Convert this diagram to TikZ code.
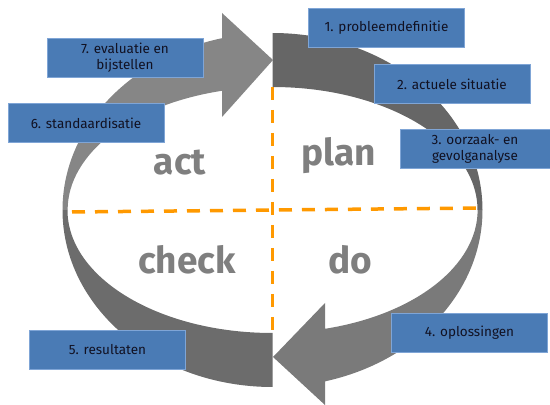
\documentclass[tikz,border=0pt]{standalone}
\usepackage{fontspec}
\setmainfont{Fira Sans}
\definecolor{actgray}{HTML}{868686}
\definecolor{plangray}{HTML}{666666}
\definecolor{checkgray}{HTML}{6C6C6C}
\definecolor{dogray}{HTML}{7A7A7A}
\definecolor{dashorange}{HTML}{FF9900}
\definecolor{boxblue}{HTML}{4A7BB5}
\definecolor{boxline}{HTML}{7FA5D6}
\definecolor{boxtext}{HTML}{111122}
\definecolor{labelgray}{HTML}{7F7F7F}
\begin{document}
\begin{tikzpicture}[x=1pt,y=1pt,
  stepbox/.style={draw=boxline, line width=0.6pt, fill=boxblue, text=boxtext,
    minimum width=156pt, minimum height=39pt, inner sep=0pt, align=center,
    font=\fontsize{13.5}{16}\selectfont},
  bigword/.style={text=labelgray, anchor=base, inner sep=0pt,
    font=\fontsize{37}{37}\selectfont\bfseries},
  quadline/.style={draw=dashorange, line width=3.5pt, dash pattern=on 13pt off 10pt}
]
\useasboundingbox (0,0) rectangle (550,405);
% plan band (top right)
\fill[plangray] (272.5,372) arc[start angle=90, end angle=0, x radius=210pt, y radius=177pt]
  -- (477.5,195) arc[start angle=0, end angle=90, x radius=205pt, y radius=123pt] -- cycle;
% check band (bottom left)
\fill[checkgray] (62.5,195) arc[start angle=180, end angle=270, x radius=210pt, y radius=177pt]
  -- (272.5,72) arc[start angle=270, end angle=180, x radius=205pt, y radius=123pt] -- cycle;
% do arrow (right, down to bottom)
\fill[dogray] (482.5,195) arc[start angle=0, end angle=-75.5, x radius=210pt, y radius=177pt]
  -- (325,0) -- (273,48) -- (325,102) -- (325,76.2)
  arc[start angle=-75.2, end angle=0, x radius=205pt, y radius=123pt] -- cycle;
% act arrow (left, up to top)
\fill[actgray] (62.5,195) arc[start angle=180, end angle=103.9, x radius=210pt, y radius=177pt]
  -- (222,392) -- (273,345) -- (222,288) -- (222,314.2)
  arc[start angle=104.3, end angle=180, x radius=205pt, y radius=123pt] -- cycle;
% dashed quadrant lines
\coordinate (vtop) at (272.5,318);
\coordinate (vbot) at (272.5,70);
\coordinate (hleft) at (72,193);
\coordinate (hright) at (480,197);
\draw[quadline] (vtop) -- (vbot);
\draw[quadline] (hleft) -- (hright);
% big words
\node[bigword] (act) at (180,230) {act};
\node[bigword] (plan) at (339,239) {plan};
\node[bigword] (check) at (187,131) {check};
\node[bigword] (do) at (350,131) {do};
% step boxes
\node[stepbox] (s1) at (386.5,377.5) {1. probleemdefinitie};
\node[stepbox] (s2) at (452,321) {2. actuele situatie};
\node[stepbox, minimum width=150pt] (s3) at (475,256) {3. oorzaak- en\\gevolganalyse};
\node[stepbox] (s4) at (469.5,72.5) {4. oplossingen};
\node[stepbox] (s5) at (107.5,55.5) {5. resultaten};
\node[stepbox] (s6) at (86,282) {6. standaardisatie};
\node[stepbox] (s7) at (125,347.5) {7. evaluatie en\\bijstellen};
\end{tikzpicture}
\end{document}
